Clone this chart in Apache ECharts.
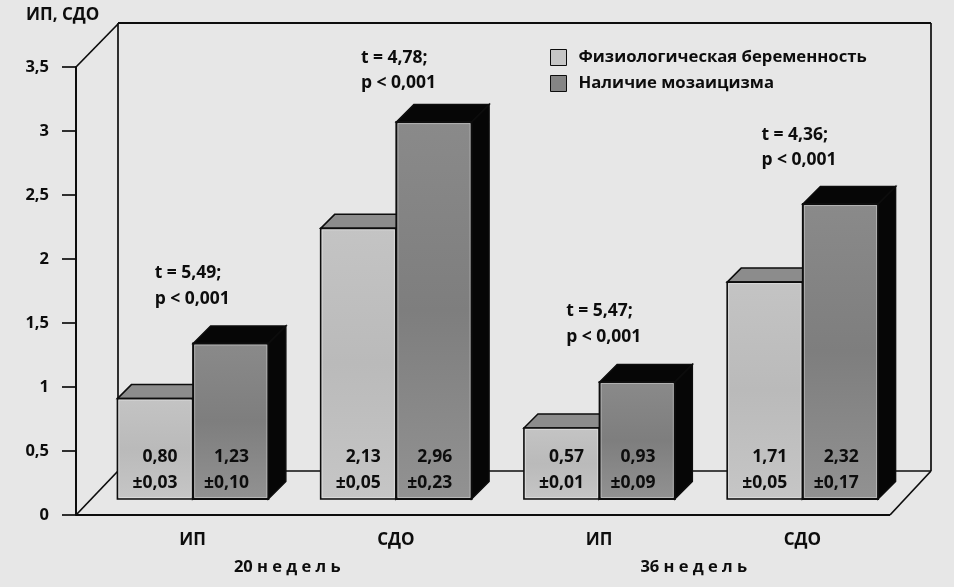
<!DOCTYPE html>
<html><head><meta charset="utf-8">
<style>html,body{margin:0;padding:0;background:#e7e7e7}#c{width:954px;height:587px}</style>
<script src="https://cdn.jsdelivr.net/npm/echarts@6/dist/echarts.min.js"></script>
</head><body><div id="c"></div>
<script>
const categories = ['ИП','СДО','ИП','СДО'];
const yTicks = [0,0.5,1,1.5,2,2.5,3,3.5];
const meanNormal = [0.80,2.13,0.57,1.71];
const errNormal  = [0.03,0.05,0.01,0.05];
const meanMosaic = [1.23,2.96,0.93,2.32];
const errMosaic  = [0.10,0.23,0.09,0.17];
const tValues = ['5,49','4,78','5,47','4,36'];
const pLabels = ['0,001','0,001','0,001','0,001'];
const weekLabels = ['20 н е д е л ь','36 н е д е л ь'];
const nameNormal = 'Физиологическая беременность';
const nameMosaic = 'Наличие мозаицизма';

const FONT = '"Open Sans", sans-serif';
const INK = '#0d0d0d';
const comma = v => String(v).replace('.', ',');
const fix2 = v => v.toFixed(2).replace('.', ',');
const chart = echarts.init(document.getElementById('c'), null, {renderer:'canvas'});

const gradNormal = {type:'linear',x:0,y:0,x2:0,y2:1,colorStops:[{offset:0,color:'#c4c4c4'},{offset:.5,color:'#bababa'},{offset:1,color:'#c6c6c6'}]};
const gradMosaic = {type:'linear',x:0,y:0,x2:0,y2:1,colorStops:[{offset:0,color:'#8a8a8a'},{offset:.5,color:'#7e7e7e'},{offset:1,color:'#929292'}]};

const BASE = 14;        // bars stand on a plane this far above the front edge
const statShift = [[-1,0],[2,6],[4,0],[-4,1]];   // hand placement of the t/p notes
const txt = (x,y,text,align,size,extra) => ({type:'text',style:Object.assign({x,y,text,align:align||'left',verticalAlign:'middle',fill:INK,font:'700 '+(size||17.5)+'px '+FONT},extra||{})});

function barRender(isMosaic){
  return function(params, api){
    const i = api.value(0), v = api.value(1), e = api.value(2);
    const band = api.size([1,0])[0];
    const w = band*0.37;
    const c = api.coord([i, v]);
    const z = api.coord([i, 0]);
    const x0 = isMosaic ? c[0]+0.5 : c[0]-w;
    const x1 = x0+w;
    const top = c[1]-BASE, bot = z[1]-BASE-2;
    const d = isMosaic ? 17.5 : 14;
    const line = {stroke:INK,lineWidth:1.5};
    const topColor = isMosaic ? '#060606' : '#8c8c8c';
    const sideColor = isMosaic ? '#060606' : '#6a6a6a';
    const kids = [
      {type:'polygon',shape:{points:[[x1,top],[x1+d,top-d],[x1+d,bot-d],[x1,bot]]},style:Object.assign({fill:sideColor},line)},
      {type:'polygon',shape:{points:[[x0,top],[x0+d,top-d],[x1+d,top-d],[x1,top]]},style:Object.assign({fill:topColor},line)},
      {type:'rect',shape:{x:x0,y:top,width:w,height:bot-top},style:{fill:isMosaic?gradMosaic:gradNormal,stroke:INK,lineWidth:isMosaic?2:1.6}},
      {type:'rect',shape:{x:x0+1.5,y:top+1.5,width:w-3,height:bot-top-3},style:{fill:null,stroke:'rgba(255,255,255,0.35)',lineWidth:1}},
      txt(x0+(isMosaic?56:60),bot-42,fix2(v),'right'),
      txt(x0+(isMosaic?56:60),bot-16,'±'+fix2(e),'right')
    ];
    return {type:'group',children:kids};
  };
}

function frameRender(params, api){
  const g = params.coordSys;
  const yAt = api.coord([0,0])[1], yTop = api.coord([0,3.5])[1];
  const L = g.x-15, R = g.x+g.width-14;
  const dx = 42, dy = 44;
  const seg = (x1,y1,x2,y2,w)=>({type:'line',shape:{x1,y1,x2,y2},style:{stroke:INK,lineWidth:w||1.7}});
  return {type:'group',children:[
    seg(L,yAt,R,yAt,2),
    seg(L,yAt,L+dx,yAt-dy),
    seg(L,yTop,L+dx,yTop-dy+1),
    seg(L+dx,yTop-dy,L+dx,yAt-dy),
    seg(L+dx,yTop-dy,R+dx-1,yTop-dy,2.2),
    seg(R+dx-1,yTop-dy,R+dx-1,yAt-dy),
    seg(L+dx,yAt-dy,R+dx-1,yAt-dy),
    seg(R,yAt,R+dx-1,yAt-dy)
  ]};
}

function statRender(params, api){
  const i = api.value(0), v = api.value(1);
  const c = api.coord([i,v]);
  const x = c[0]-37+statShift[i][0], y2 = c[1]-BASE-18-27+statShift[i][1];
  return {type:'group',children:[
    txt(x,y2-25.5,'t = '+tValues[i]+';'),
    txt(x,y2,'p < '+pLabels[i])
  ]};
}

function weekRender(params, api){
  const i = api.value(0);
  const a = api.coord([i*2,0]), b = api.coord([i*2+1,0]);
  return txt((a[0]+b[0])/2-7, a[1]+52.5, weekLabels[i], 'center', 16.5);
}

chart.setOption({
  backgroundColor:'#e7e7e7',
  animation:false,
  title:{text:'ИП, СДО',left:21,top:2,textStyle:{fontFamily:FONT,fontWeight:700,fontSize:17,color:INK}},
  legend:{
    orient:'vertical',left:545,top:44,itemWidth:16,itemHeight:16,itemGap:9,
    selectedMode:false,
    textStyle:{fontFamily:FONT,fontWeight:700,fontSize:16.7,color:INK,padding:[0,0,0,7]},
    data:[
      {name:nameNormal,icon:'rect',itemStyle:{color:'#c6c6c6',borderColor:INK,borderWidth:1}},
      {name:nameMosaic,icon:'rect',itemStyle:{color:'#858585',borderColor:INK,borderWidth:1}}
    ]
  },
  grid:{left:91,right:50,top:67,bottom:72},
  xAxis:{type:'category',data:categories,
    axisLine:{show:false},axisTick:{show:false},
    axisLabel:{margin:17,fontFamily:FONT,fontWeight:700,fontSize:17,color:INK}},
  yAxis:{type:'value',min:yTicks[0],max:yTicks[yTicks.length-1],interval:0.5,offset:15,
    splitLine:{show:false},
    axisLine:{show:true,onZero:false,lineStyle:{color:INK,width:2}},
    axisTick:{show:true,length:14,lineStyle:{color:INK,width:1.7}},
    axisLabel:{margin:27,formatter:comma,fontFamily:FONT,fontWeight:700,fontSize:16.5,color:INK}},
  series:[
    {type:'custom',name:'frame',z:1,silent:true,renderItem:frameRender,data:[[0,0]],encode:{x:0,y:1}},
    {type:'custom',name:nameNormal,z:2,silent:true,renderItem:barRender(false),
      data:meanNormal.map((v,i)=>[i,v,errNormal[i]]),encode:{x:0,y:1}},
    {type:'custom',name:nameMosaic,z:3,silent:true,renderItem:barRender(true),
      data:meanMosaic.map((v,i)=>[i,v,errMosaic[i]]),encode:{x:0,y:1}},
    {type:'custom',name:'stat',z:4,silent:true,renderItem:statRender,
      data:meanMosaic.map((v,i)=>[i,v]),encode:{x:0,y:1}},
    {type:'custom',name:'weeks',z:4,silent:true,clip:false,renderItem:weekRender,
      data:weekLabels.map((v,i)=>[i,0]),encode:{x:0,y:1}}
  ]
});
</script></body></html>
